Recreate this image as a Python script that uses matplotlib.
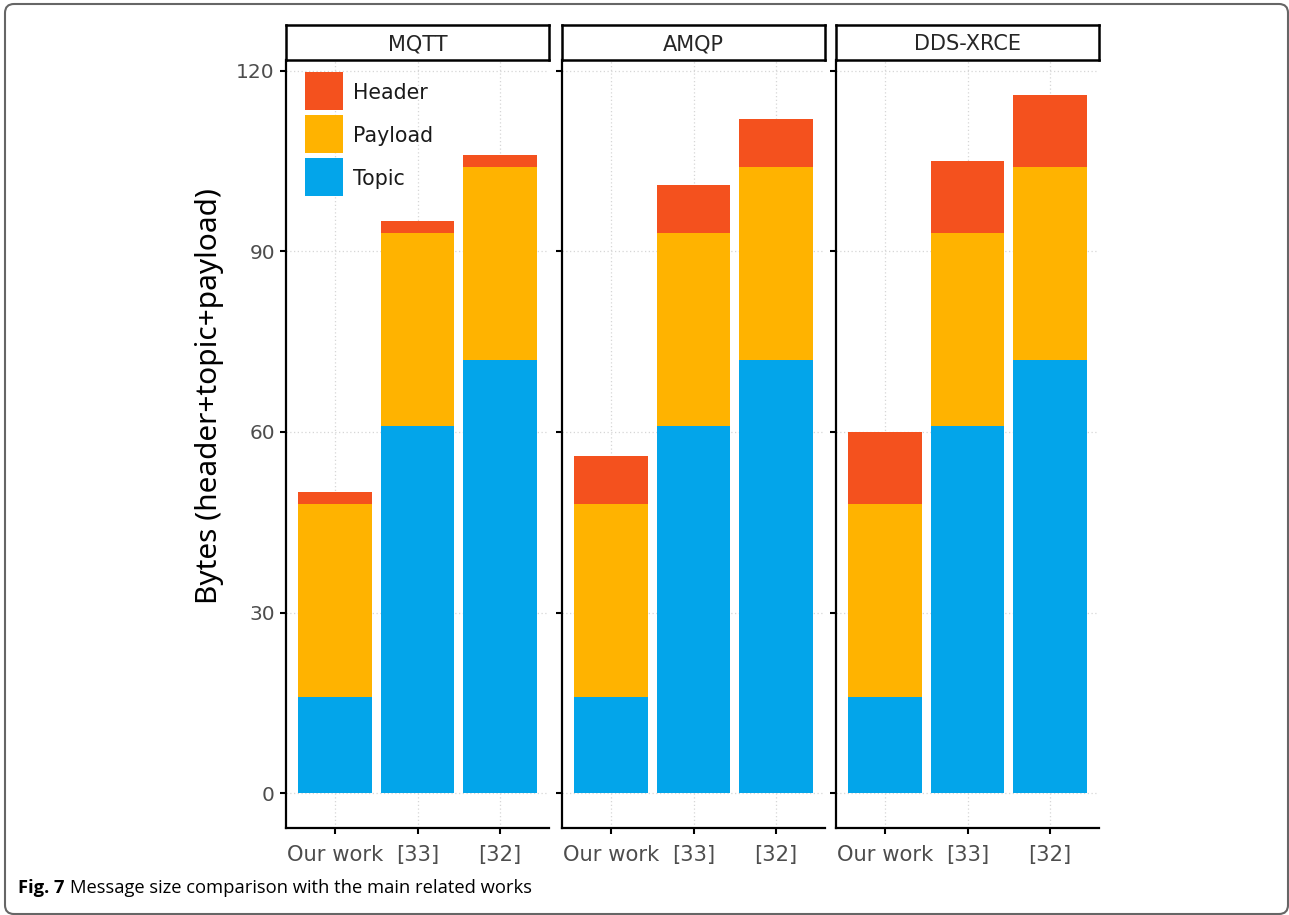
import matplotlib

matplotlib.use("Agg")
import matplotlib.pyplot as plt  # noqa: E402
from matplotlib.patches import FancyBboxPatch, Rectangle  # noqa: E402
from matplotlib.transforms import IdentityTransform  # noqa: E402

plt.rcParams["font.family"] = ["DejaVu Sans"]

protocols = ["MQTT", "AMQP", "DDS-XRCE"]
works = ["Our work", "[33]", "[32]"]

# bytes per message, one list per protocol, ordered like `works`
topic = {
    "MQTT": [16, 61, 72],
    "AMQP": [16, 61, 72],
    "DDS-XRCE": [16, 61, 72],
}
payload = {
    "MQTT": [32, 32, 32],
    "AMQP": [32, 32, 32],
    "DDS-XRCE": [32, 32, 32],
}
header = {
    "MQTT": [2, 2, 2],
    "AMQP": [8, 8, 8],
    "DDS-XRCE": [12, 12, 12],
}
y_ticks = [0, 30, 60, 90, 120]
legend_labels = ["Header", "Payload", "Topic"]

C_HEADER = "#F4511E"
C_PAYLOAD = "#FFB300"
C_TOPIC = "#03A5EA"
TEXT_GREY = "#4d4d4d"

W, H = 1289, 915
fig = plt.figure(figsize=(W / 100, H / 100), dpi=100)


def fx(px):
    return px / W


def fy(py):
    return 1 - py / H


panel_left = [286, 562, 836]
panel_w = 263
panel_top, panel_bottom = 60, 828
strip_top = 25

xpos = [1, 2, 3]
axes = []
for i, proto in enumerate(protocols):
    ax = fig.add_axes([fx(panel_left[i]), fy(panel_bottom), fx(panel_w),
                       (panel_bottom - panel_top) / H])
    axes.append(ax)
    t = topic[proto]
    p = payload[proto]
    h = header[proto]
    tp = [a + b for a, b in zip(t, p)]
    ax.bar(xpos, t, width=0.9, color=C_TOPIC, zorder=2)
    ax.bar(xpos, p, width=0.9, bottom=t, color=C_PAYLOAD, zorder=2)
    ax.bar(xpos, h, width=0.9, bottom=tp, color=C_HEADER, zorder=2)

    ax.set_xlim(0.4, 3.6)
    ax.set_ylim(-5.8, 121.8)
    ax.set_yticks(y_ticks)
    ax.set_xticks(xpos)
    ax.set_xticklabels(works)
    ax.grid(True, color="#d6d6d6", linestyle=(0, (1, 2)), linewidth=0.9, zorder=0)
    ax.set_axisbelow(True)
    for side in ("top", "right"):
        ax.spines[side].set_visible(False)
    for side in ("left", "bottom"):
        ax.spines[side].set_linewidth(1.6)
        ax.spines[side].set_color("black")
    ax.tick_params(axis="both", direction="out", length=4, width=1.5,
                   colors="black", labelcolor=TEXT_GREY, labelsize=14.5, pad=4)
    ax.tick_params(axis="x", pad=8, labelsize=15.2)
    if i > 0:
        ax.tick_params(axis="y", labelleft=False)

    # facet strip
    strip = fig.add_axes([fx(panel_left[i]), fy(panel_top), fx(panel_w),
                          (panel_top - strip_top) / H])
    strip.set_xticks([])
    strip.set_yticks([])
    for s in strip.spines.values():
        s.set_linewidth(1.8)
        s.set_color("black")
    strip.text(0.5, 0.45, proto, ha="center", va="center", fontsize=15,
               color="#262626", transform=strip.transAxes)

axes[0].set_ylabel("Bytes (header+topic+payload)", family="Noto Sans",
                   fontsize=21.5, color="black")
axes[0].yaxis.set_label_coords((224 - 286) / panel_w, (828 - 396) / 768)

# legend keys drawn as square swatches in the first panel
key_top = [72, 115, 158]
for lbl, col, top in zip(legend_labels, [C_HEADER, C_PAYLOAD, C_TOPIC], key_top):
    fig.add_artist(Rectangle((fx(305), fy(top + 38)), fx(38), 38 / H,
                             transform=fig.transFigure, facecolor=col,
                             edgecolor="none"))
    fig.text(fx(353), fy(top + 19), lbl, fontsize=14.8, color="#1a1a1a",
             va="center_baseline", ha="left")

# caption: bold figure number followed by regular text
fig.canvas.draw()
renderer = fig.canvas.get_renderer()
cap = fig.text(fx(18), fy(893), "Fig. 7", family="Open Sans", fontweight="bold",
               fontsize=13.2, va="baseline", ha="left")
bb = cap.get_window_extent(renderer)
fig.text((bb.x1 + 5) / W, fy(893), "Message size comparison with the main related works",
         family="Open Sans", fontsize=13.2, va="baseline", ha="left")

# outer frame with rounded corners
frame = FancyBboxPatch((5, H - 914), 1283, 910,
                       boxstyle="round,pad=0,rounding_size=9",
                       transform=IdentityTransform(), facecolor="none",
                       edgecolor="#666666", linewidth=1.5)
fig.add_artist(frame)

fig.savefig("out.png", dpi=100)
